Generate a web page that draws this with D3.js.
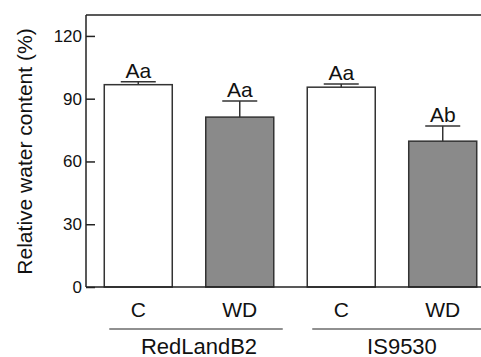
<!DOCTYPE html>
<html lang="en">
<head>
    <meta charset="UTF-8">
    <title>Relative water content</title>
    <script src="https://d3js.org/d3.v7.min.js"></script>
    <style>
        body { margin: 0; background: #fff; }
        svg { display: block; font-family: 'Liberation Sans', Arial, sans-serif; }
    </style>
</head>
<body>
    <div id="chart"></div>
    <script>
        // data
        var bars = ['RedLandB2-C', 'RedLandB2-WD', 'IS9530-C', 'IS9530-WD'];
        var treatments = ['C', 'WD', 'C', 'WD'];
        var values = [96.7, 81.2, 95.5, 69.7];
        var errors = [1.4, 7.7, 1.5, 7.3];
        var letters = ['Aa', 'Aa', 'Aa', 'Ab'];
        var genotypes = ['RedLandB2', 'IS9530'];
        var yTicks = [0, 30, 60, 90, 120];

        var svgWidth = 481, svgHeight = 357;
        var plotLeft = 86, plotTop = 15, plotBottom = 287, plotRight = 495;

        var svg = d3.select('#chart').append('svg')
            .attr('width', svgWidth)
            .attr('height', svgHeight);

        var x = d3.scaleBand()
            .domain(bars)
            .range([plotLeft, plotRight])
            .paddingInner(0.33)
            .paddingOuter(0.18);

        var y = d3.scaleLinear()
            .domain([0, 130])
            .range([plotBottom, plotTop]);

        var data = bars.map(function(b, i) {
            return { key: b, trt: treatments[i], value: values[i], err: errors[i], letter: letters[i] };
        });

        // bars
        svg.append('g').selectAll('rect')
            .data(data)
            .join('rect')
            .attr('x', d => x(d.key))
            .attr('y', d => y(d.value))
            .attr('width', x.bandwidth())
            .attr('height', d => y(0) - y(d.value))
            .attr('fill', d => d.trt === 'C' ? '#fff' : '#8a8a8a')
            .attr('stroke', '#333')
            .attr('stroke-width', 1.5);

        // error bars
        var eb = svg.append('g').attr('stroke', '#333').attr('stroke-width', 1.5);
        eb.selectAll('.stem')
            .data(data)
            .join('line')
            .attr('class', 'stem')
            .attr('x1', d => x(d.key) + x.bandwidth() / 2)
            .attr('x2', d => x(d.key) + x.bandwidth() / 2)
            .attr('y1', d => y(d.value))
            .attr('y2', d => y(d.value + d.err));
        eb.selectAll('.cap')
            .data(data)
            .join('line')
            .attr('class', 'cap')
            .attr('x1', d => x(d.key) + x.bandwidth() / 2 - 17.5)
            .attr('x2', d => x(d.key) + x.bandwidth() / 2 + 17.5)
            .attr('y1', d => y(d.value + d.err))
            .attr('y2', d => y(d.value + d.err));

        // significance letters
        svg.append('g').selectAll('text')
            .data(data)
            .join('text')
            .attr('x', d => x(d.key) + x.bandwidth() / 2)
            .attr('y', d => y(d.value + d.err) - 4)
            .attr('text-anchor', 'middle')
            .attr('font-size', 21)
            .attr('fill', '#111')
            .text(d => d.letter);

        // frame top
        svg.append('line')
            .attr('x1', plotLeft).attr('x2', plotRight)
            .attr('y1', plotTop).attr('y2', plotTop)
            .attr('stroke', '#222').attr('stroke-width', 1.5);

        // y axis with inward ticks
        var yAxis = svg.append('g')
            .attr('transform', 'translate(' + plotLeft + ',0)')
            .call(d3.axisRight(y).tickValues(yTicks).tickSize(9).tickSizeOuter(0));
        yAxis.select('.domain').remove();
        yAxis.selectAll('.tick line').attr('stroke', '#222').attr('stroke-width', 1.5);
        yAxis.selectAll('.tick text')
            .attr('x', -4)
            .attr('text-anchor', 'end')
            .attr('font-size', 17)
            .attr('fill', '#111');
        svg.append('line')
            .attr('x1', plotLeft).attr('x2', plotLeft)
            .attr('y1', plotTop).attr('y2', plotBottom)
            .attr('stroke', '#222').attr('stroke-width', 1.5);

        // x axis
        var xAxis = svg.append('g')
            .attr('transform', 'translate(0,' + plotBottom + ')')
            .call(d3.axisBottom(x).tickSize(0).tickFormat((d, i) => treatments[i]));
        xAxis.select('.domain')
            .attr('d', 'M' + plotLeft + ',0H' + plotRight)
            .attr('stroke', '#222').attr('stroke-width', 1.5);
        xAxis.selectAll('.tick text')
            .attr('y', 29.7)
            .attr('dy', 0)
            .attr('font-size', 21)
            .attr('fill', '#111');

        // genotype group lines and labels
        var groups = genotypes.map(function(g, i) {
            var a = x(bars[i * 2]), b = x(bars[i * 2 + 1]) + x.bandwidth();
            var mid = (a + b) / 2;
            return { name: g, x0: a + 5, x1: b + 9, mid: mid + 10 };
        });
        svg.append('g').selectAll('line')
            .data(groups)
            .join('line')
            .attr('x1', d => d.x0)
            .attr('x2', d => d.x1)
            .attr('y1', 329)
            .attr('y2', 329)
            .attr('stroke', '#222')
            .attr('stroke-width', 1.2);
        svg.append('g').selectAll('text')
            .data(groups)
            .join('text')
            .attr('x', d => d.mid)
            .attr('y', 354)
            .attr('text-anchor', 'middle')
            .attr('font-size', 22)
            .attr('fill', '#111')
            .text(d => d.name);

        // y axis title
        svg.append('text')
            .attr('transform', 'translate(32,151.5) rotate(-90)')
            .attr('text-anchor', 'middle')
            .attr('font-size', 21)
            .attr('fill', '#111')
            .text('Relative water content (%)');
    </script>
</body>
</html>
